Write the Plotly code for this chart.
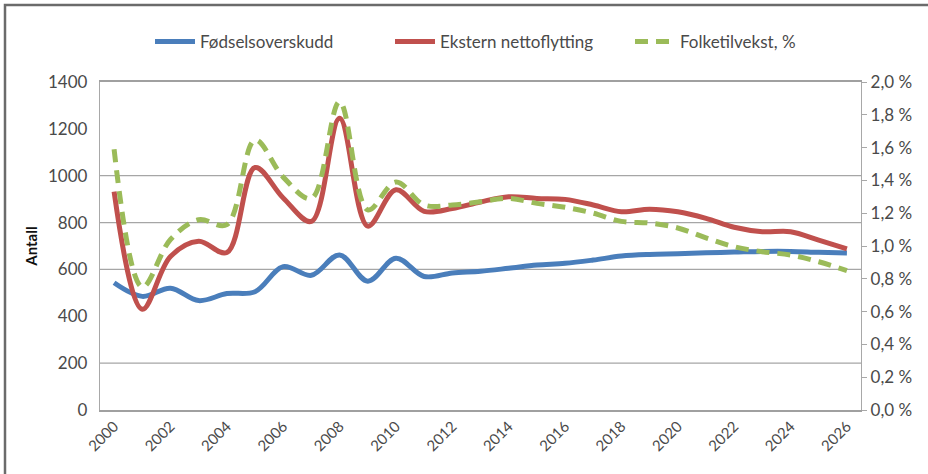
import plotly.graph_objects as go

# Years on the category axis
years = list(range(2000, 2027))

# Natural increase (persons)
fodselsoverskudd = [543, 485, 520, 467, 497, 505, 612, 575, 662, 550, 648, 570, 585,
                    592, 605, 619, 626, 640, 657, 664, 667, 671, 674, 677, 677, 673, 670]

# External net migration (persons)
nettoflytting = [932, 430, 655, 720, 672, 1035, 905, 805, 1245, 785, 940, 848, 860,
                 888, 910, 903, 899, 875, 846, 857, 846, 818, 780, 761, 761, 725, 688]

# Population growth (percent, right axis)
folketilvekst = [1.59, 0.75, 1.04, 1.16, 1.13, 1.646, 1.42, 1.29, 1.88, 1.22, 1.39, 1.25, 1.25,
                 1.27, 1.29, 1.26, 1.236, 1.20, 1.15, 1.14, 1.11, 1.05, 0.996, 0.965, 0.945, 0.904, 0.85]

left_ticks = list(range(0, 1401, 200))
right_ticks = [i / 10 for i in range(0, 21, 2)]
right_ticktext = [f"{v:.1f}".replace(".", ",") + " %" for v in right_ticks]
x_ticks = list(range(2000, 2027, 2))
grid_values = [1000, 800, 600, 200]

W, H = 928, 474
ML, MR, MT, MB = 100, 67, 82, 64
font_family = "Lato, 'Open Sans', sans-serif"
text_color = "#4a4a4a"

fig = go.Figure()

fig.add_trace(go.Scatter(
    x=years, y=fodselsoverskudd, name="Fødselsoverskudd", mode="lines",
    line=dict(color="#4a7ebb", width=5, shape="spline", smoothing=1.0),
))
fig.add_trace(go.Scatter(
    x=years, y=nettoflytting, name="Ekstern nettoflytting", mode="lines",
    line=dict(color="#c0504d", width=5, shape="spline", smoothing=1.0),
))
fig.add_trace(go.Scatter(
    x=years, y=folketilvekst, name="Folketilvekst, %", mode="lines", yaxis="y2",
    line=dict(color="#9bbb59", width=5, dash="13px,8px", shape="spline", smoothing=1.0),
))

# Horizontal gridlines on the count axis
for g in grid_values:
    fig.add_shape(type="line", xref="paper", yref="y", x0=0, x1=1, y0=g, y1=g,
                  line=dict(color="#a6a6a6", width=1.3), layer="below")

# Outer frame around the whole chart
pw, ph = W - ML - MR, H - MT - MB
fig.add_shape(type="rect", xref="paper", yref="paper",
              x0=(5 - ML) / pw, x1=(W + 10 - ML) / pw,
              y0=-(H + 10 - MT - ph) / ph, y1=1 + (MT - 5) / ph,
              line=dict(color="#6b6b6b", width=2.5), fillcolor="rgba(0,0,0,0)", layer="below")

fig.update_layout(
    width=W, height=H,
    margin=dict(l=ML, r=MR, t=MT, b=MB),
    paper_bgcolor="white", plot_bgcolor="white",
    font=dict(family=font_family, size=16, color=text_color),
    showlegend=True,
    legend=dict(orientation="h", x=(150 - ML) / pw, xanchor="left", y=1.122, yanchor="middle",
                font=dict(size=17, color=text_color), bgcolor="rgba(0,0,0,0)",
                itemwidth=40, traceorder="normal",
                entrywidth=185, entrywidthmode="pixels"),
    xaxis=dict(range=[1999.5, 2026.5], tickvals=x_ticks, ticktext=[str(t) for t in x_ticks],
               tickangle=-45, showgrid=False, zeroline=False,
               showline=True, mirror=True, linecolor="#a0a0a0", linewidth=1.5,
               ticks="", tickfont=dict(size=15, color=text_color)),
    yaxis=dict(range=[0, 1400], tickvals=left_ticks, showgrid=False, zeroline=False,
               showline=True, linecolor="#a8a8a8", linewidth=1.3, ticks="",
               ticklabelstandoff=8,
               tickfont=dict(size=17, color=text_color),
               title=dict(text="<b>Antall</b>", font=dict(size=15, color="#111111"), standoff=6)),
    yaxis2=dict(range=[0, 2.0], tickvals=right_ticks, ticktext=right_ticktext,
                overlaying="y", side="right", showgrid=False, zeroline=False,
                showline=True, linecolor="#a8a8a8", linewidth=1.3,
                ticks="outside", ticklen=5, tickcolor="#a8a8a8",
                tickfont=dict(size=17, color=text_color)),
)

fig.write_html("out.html")
